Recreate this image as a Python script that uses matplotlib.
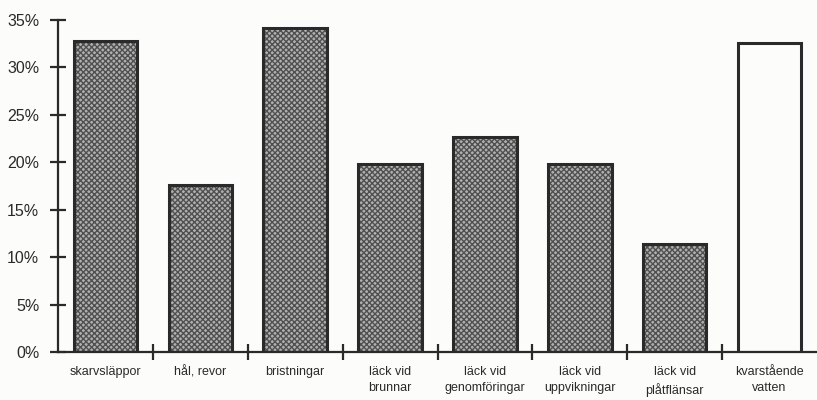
import numpy as np
import matplotlib.pyplot as plt
from matplotlib.ticker import FixedLocator, FuncFormatter

categories = ["skarvsläppor", "hål, revor", "bristningar", "läck vid\nbrunnar",
              "läck vid\ngenomföringar", "läck vid\nuppvikningar", "läck vid\nplåtflänsar",
              "kvarstående\nvatten"]
values = [32.8, 17.6, 34.2, 19.8, 22.7, 19.8, 11.4, 32.6]
filled = [True, True, True, True, True, True, True, False]
yticks = [0, 5, 10, 15, 20, 25, 30, 35]

plt.rcParams['font.family'] = ['Liberation Sans', 'DejaVu Sans']

fig = plt.figure(figsize=(8.17, 4.0), dpi=100)
fig.patch.set_facecolor('#fcfcfa')
ax = fig.add_axes([58 / 817, 0.12, 1 - 58 / 817, 0.83])
ax.set_facecolor('#fcfcfa')

x = np.arange(len(categories))
width = 0.67
for xi, v, f in zip(x, values, filled):
    if f:
        # textured fill
        ax.bar(xi, v, width, color='#b0b0b0', edgecolor='#505050', hatch='xxxxxx', linewidth=0)
    ax.bar(xi, v, width, fill=False, edgecolor='#2a2a2a', linewidth=2.2)

ax.set_xlim(-0.5, len(categories) - 0.5)
ax.set_ylim(0, 35)

for s in ['top', 'right']:
    ax.spines[s].set_visible(False)
for s in ['left', 'bottom']:
    ax.spines[s].set_linewidth(1.6)
    ax.spines[s].set_color('#2a2a2a')

ax.set_yticks(yticks)
ax.yaxis.set_major_formatter(FuncFormatter(lambda v, p: f"{int(v)}%"))
ax.tick_params(axis='y', direction='inout', length=11, width=1.6, labelsize=11.5, pad=8, colors='#2a2a2a')

ax.set_xticks(x)
ax.set_xticklabels(categories, fontsize=9, linespacing=1.45)
ax.tick_params(axis='x', which='major', length=0, pad=10, colors='#2a2a2a')
ax.xaxis.set_minor_locator(FixedLocator(x[:-1] + 0.5))
ax.tick_params(axis='x', which='minor', direction='inout', length=11, width=1.6, colors='#2a2a2a')

fig.savefig('out.png', dpi=100, facecolor=fig.get_facecolor())
